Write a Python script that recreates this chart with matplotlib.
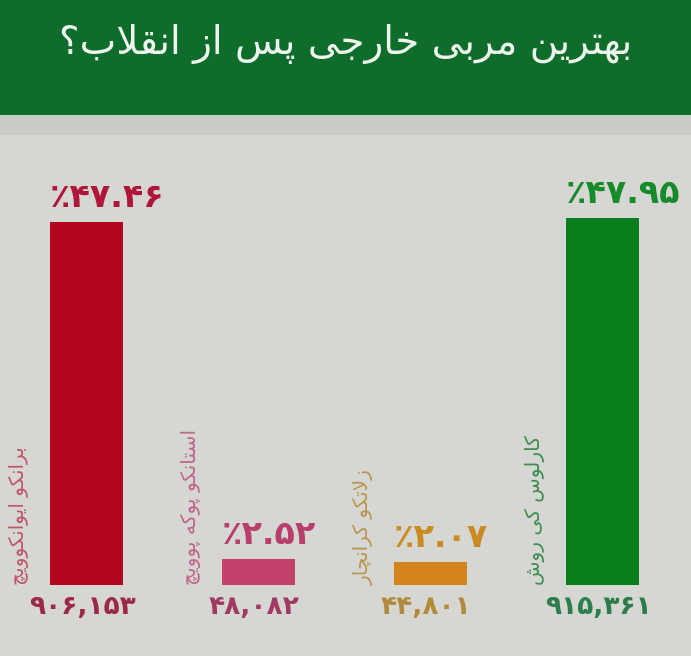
import matplotlib
matplotlib.use('Agg')
import matplotlib.pyplot as plt
from matplotlib.patches import Rectangle

# data
title = 'بهترین مربی خارجی پس از انقلاب؟'
coaches = ['برانکو ایوانکوویچ', 'استانکو پوکه پوویچ', 'زلاتکو کرانچار', 'کارلوس کی روش']
percent = [47.46, 2.52, 2.07, 47.95]
votes = [906153, 48082, 44801, 915361]

bar_colors = ['#b3051f', '#c3426c', '#d3841c', '#0a7d1c']
label_colors = ['#b0153a', '#b83e6c', '#c98b22', '#178a2a']
vote_colors = ['#9c2a46', '#a03a62', '#b18a3c', '#2c7d4c']
name_colors = ['#c0586c', '#c0668c', '#b99650', '#3e8e52']

# simple arabic/persian shaping (matplotlib does no shaping or bidi)
FORMS = {
    'ا': (0xFE8D, 0xFE8E), 'د': (0xFEA9, 0xFEAA), 'ذ': (0xFEAB, 0xFEAC),
    'ر': (0xFEAD, 0xFEAE), 'ز': (0xFEAF, 0xFEB0), 'ژ': (0xFB8A, 0xFB8B),
    'و': (0xFEED, 0xFEEE),
    'ب': (0xFE8F, 0xFE90, 0xFE91, 0xFE92), 'ت': (0xFE95, 0xFE96, 0xFE97, 0xFE98),
    'ج': (0xFE9D, 0xFE9E, 0xFE9F, 0xFEA0), 'خ': (0xFEA5, 0xFEA6, 0xFEA7, 0xFEA8),
    'س': (0xFEB1, 0xFEB2, 0xFEB3, 0xFEB4), 'ش': (0xFEB5, 0xFEB6, 0xFEB7, 0xFEB8),
    'ق': (0xFED5, 0xFED6, 0xFED7, 0xFED8), 'ل': (0xFEDD, 0xFEDE, 0xFEDF, 0xFEE0),
    'م': (0xFEE1, 0xFEE2, 0xFEE3, 0xFEE4), 'ن': (0xFEE5, 0xFEE6, 0xFEE7, 0xFEE8),
    'ه': (0xFEE9, 0xFEEA, 0xFEEB, 0xFEEC), 'پ': (0xFB56, 0xFB57, 0xFB58, 0xFB59),
    'چ': (0xFB7A, 0xFB7B, 0xFB7C, 0xFB7D), 'ک': (0xFB8E, 0xFB8F, 0xFB90, 0xFB91),
    'گ': (0xFB92, 0xFB93, 0xFB94, 0xFB95), 'ی': (0xFBFC, 0xFBFD, 0xFBFE, 0xFBFF),
}


def shape(s):
    s = s.replace('لا', '\uFEFB')
    out = []
    for i, c in enumerate(s):
        prev = s[i - 1] if i > 0 else ''
        nxt = s[i + 1] if i + 1 < len(s) else ''
        if c == '\uFEFB':
            out.append('\uFEFC' if len(FORMS.get(prev, ())) == 4 else c)
            continue
        if c not in FORMS:
            out.append(c)
            continue
        f = FORMS[c]
        jp = len(FORMS.get(prev, ())) == 4
        jn = len(f) == 4 and (nxt in FORMS or nxt == '\uFEFB')
        if jp and jn:
            out.append(chr(f[3]))
        elif jp:
            out.append(chr(f[1]))
        elif jn:
            out.append(chr(f[2]))
        else:
            out.append(chr(f[0]))
    return ''.join(out)[::-1]


def fa_digits(s):
    return s.translate(str.maketrans('0123456789', '۰۱۲۳۴۵۶۷۸۹'))


W, H = 691, 656
fig = plt.figure(figsize=(W / 100, H / 100), dpi=100)
fig.patch.set_facecolor('#d6d7d3')
fig.patches.append(Rectangle((0, 1 - 115 / H), 1, 115 / H, transform=fig.transFigure,
                             facecolor='#0f6d2c', edgecolor='none', zorder=0))
fig.patches.append(Rectangle((0, 1 - 135 / H), 1, 20 / H, transform=fig.transFigure,
                             facecolor='#c9cbc7', edgecolor='none', zorder=0))
fig.text(0.50, 1 - 44 / H, shape(title), ha='center', va='center', color='#eef4ee',
         fontsize=28, family=['DejaVu Sans'])

ax = fig.add_axes([0, 71 / H, 1, 455 / H])
ax.set_facecolor('none')
base = -0.95
ax.set_xlim(-0.503, 3.515)
ax.set_ylim(base, base + 455 / 7.5)
ax.axis('off')

x = range(len(percent))
bw = 0.425
ax.bar(x, [p - base for p in percent], bottom=base, width=bw, color=bar_colors)

for i, p in enumerate(percent):
    left = i - bw / 2
    ax.annotate('٪' + fa_digits(f'{p:.2f}'), (left, p), xytext=(0, 6),
                textcoords='offset points', ha='left', va='bottom',
                color=label_colors[i], fontsize=24, fontweight='bold',
                family=['DejaVu Sans'], annotation_clip=False)
    ax.annotate(fa_digits(f'{votes[i]:,}'), (i, base), xytext=(-3, -16),
                textcoords='offset points', ha='center', va='center',
                color=vote_colors[i], fontsize=19, fontweight='bold',
                family=['DejaVu Sans'], annotation_clip=False)
    ax.annotate(shape(coaches[i]), (left, base), xytext=(-22, 0),
                textcoords='offset points', ha='center', va='bottom',
                rotation=90, color=name_colors[i], fontsize=14.5,
                family=['DejaVu Sans'], annotation_clip=False)

fig.savefig('out.png', dpi=100, facecolor=fig.get_facecolor())
